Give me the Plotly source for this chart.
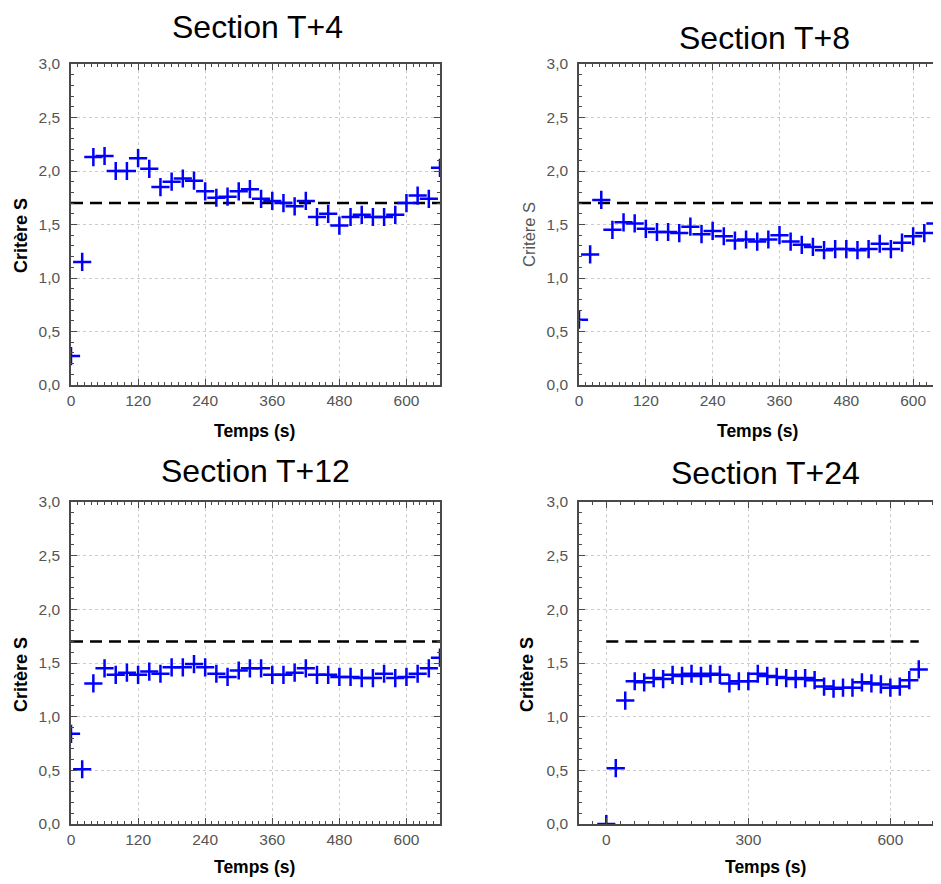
import plotly.graph_objects as go

W, H = 941, 884
OFF = 8  # page body margin of the browser

# ---------------- data ----------------
temps = [0, 20, 40, 60, 80, 100, 120, 140, 160, 180, 200, 220, 240, 260, 280, 300,
         320, 340, 360, 380, 400, 420, 440, 460, 480, 500, 520, 540, 560, 580, 600,
         620, 640, 660]

s_t4 = [0.27, 1.15, 2.13, 2.14, 2.00, 2.00, 2.12, 2.02, 1.85, 1.90, 1.93, 1.91, 1.81,
        1.75, 1.76, 1.81, 1.83, 1.74, 1.72, 1.70, 1.67, 1.72, 1.57, 1.60, 1.49, 1.57,
        1.59, 1.57, 1.57, 1.59, 1.70, 1.77, 1.74, 2.03]

s_t8 = [0.61, 1.22, 1.73, 1.45, 1.52, 1.51, 1.46, 1.43, 1.43, 1.42, 1.48, 1.41, 1.44,
        1.39, 1.35, 1.36, 1.34, 1.36, 1.40, 1.34, 1.31, 1.29, 1.26, 1.27, 1.27, 1.26,
        1.27, 1.32, 1.27, 1.33, 1.39, 1.42, 1.51]

s_t12 = [0.84, 0.51, 1.31, 1.45, 1.39, 1.41, 1.39, 1.42, 1.40, 1.46, 1.46, 1.49, 1.46,
         1.40, 1.37, 1.43, 1.45, 1.45, 1.39, 1.39, 1.41, 1.45, 1.39, 1.39, 1.37, 1.37,
         1.36, 1.36, 1.40, 1.36, 1.37, 1.40, 1.45, 1.55]

s_t24 = [0.00, 0.52, 1.15, 1.33, 1.32, 1.36, 1.35, 1.39, 1.38, 1.40, 1.38, 1.40, 1.39,
         1.31, 1.33, 1.33, 1.40, 1.38, 1.37, 1.36, 1.35, 1.36, 1.34, 1.28, 1.26, 1.27,
         1.27, 1.32, 1.31, 1.30, 1.27, 1.28, 1.34, 1.44]

seuil = 1.7

titres = ["Section T+4", "Section T+8", "Section T+12", "Section T+24"]
y_ticks = [0, 0.5, 1.0, 1.5, 2.0, 2.5, 3.0]
y_ticktext = ["0,0", "0,5", "1,0", "1,5", "2,0", "2,5", "3,0"]
x_ticks_a = [0, 120, 240, 360, 480, 600]
x_ticks_b = [0, 300, 600]
x_label = "Temps (s)"
y_label = "Critère S"

# ---------------- layout helpers (screen px -> paper) ----------------
def px_x(p):
    return min(1.0, (p - OFF) / W)

def px_y(p):
    return 1 - (p - OFF) / H

FONT = "Liberation Sans, Arial, sans-serif"
AXIS_COL = "#4a4a4a"
TICK_FONT = dict(family=FONT, size=15.5, color="#555555")

panels = [
    dict(y=s_t4, xt=x_ticks_a, mdt=12, xr=[0, 660], dx=(71, 440), dy=(64, 385), mirror=True,
         title_pos=(258, 27), ylab_x=21, ylab_y=236, ylab_bold=True, xlab_x=255, xlab_y=431),
    dict(y=s_t8, xt=x_ticks_a, mdt=12, xr=[0, 650], dx=(579, 941), dy=(64, 385), mirror=False,
         title_pos=(764, 38), ylab_x=529, ylab_y=235, ylab_bold=False, xlab_x=757, xlab_y=431),
    dict(y=s_t12, xt=x_ticks_a, mdt=12, xr=[0, 660], dx=(71, 440), dy=(502, 824), mirror=True,
         title_pos=(256, 471), ylab_x=21, ylab_y=675, ylab_bold=True, xlab_x=255, xlab_y=867),
    dict(y=s_t24, xt=x_ticks_b, mdt=30, xr=[-57.7, 707], dx=(579, 941), dy=(502, 824), mirror=False,
         title_pos=(765, 473), ylab_x=527, ylab_y=675, ylab_bold=True, xlab_x=765, xlab_y=867),
]

fig = go.Figure()
annotations = []

for i, p in enumerate(panels):
    n = "" if i == 0 else str(i + 1)
    xa, ya = "x" + n, "y" + n
    ys = p["y"]
    xs = temps[:len(ys)]
    # threshold dashed line
    fig.add_trace(go.Scatter(
        x=[temps[0], temps[-1]], y=[seuil, seuil], mode="lines",
        line=dict(color="black", width=2.5, dash="12px,7px"),
        xaxis=xa, yaxis=ya, showlegend=False, hoverinfo="skip"))
    # data crosses
    fig.add_trace(go.Scatter(
        x=xs, y=ys, mode="markers",
        marker=dict(symbol="cross-thin", size=13, line=dict(color="#0000ff", width=2.5)),
        xaxis=xa, yaxis=ya, showlegend=False))

    common = dict(
        showline=True, linecolor=AXIS_COL, linewidth=1.6,
        ticks="inside", ticklen=6, tickwidth=1.2, tickcolor=AXIS_COL,
        showgrid=True, gridcolor="#cccccc", gridwidth=1, griddash="dot",
        zeroline=False, tickfont=TICK_FONT, automargin=False,
    )
    fig.layout["xaxis" + n] = dict(
        common, domain=[px_x(p["dx"][0]), px_x(p["dx"][1])], range=p["xr"],
        tickvals=p["xt"], ticktext=[str(v) for v in p["xt"]],
        mirror="ticks", anchor=ya,
        minor=dict(dtick=p["mdt"], tick0=0, ticks="inside", ticklen=3.5,
                   tickwidth=1, tickcolor=AXIS_COL, showgrid=False),
        ticklabelstandoff=1,
    )
    fig.layout["yaxis" + n] = dict(
        common, domain=[px_y(p["dy"][1]), px_y(p["dy"][0])], range=[0, 3],
        tickvals=y_ticks, ticktext=y_ticktext,
        mirror="ticks" if p["mirror"] else False, anchor=xa,
        minor=dict(dtick=0.1, tick0=0, ticks="inside", ticklen=3.5,
                   tickwidth=1, tickcolor=AXIS_COL, showgrid=False),
        ticklabelstandoff=6,
    )

    annotations.append(dict(
        text=titres[i], x=px_x(p["title_pos"][0]), y=px_y(p["title_pos"][1]),
        xref="paper", yref="paper", xanchor="center", yanchor="middle",
        showarrow=False, font=dict(family=FONT, size=32, color="black")))
    annotations.append(dict(
        text="<b>" + x_label + "</b>", x=px_x(p["xlab_x"]),
        y=px_y(p["xlab_y"]), xref="paper", yref="paper", xanchor="center", yanchor="middle",
        showarrow=False, font=dict(family=FONT, size=17.5, color="black")))
    annotations.append(dict(
        text=("<b>" + y_label + "</b>") if p["ylab_bold"] else y_label,
        x=px_x(p["ylab_x"]), y=px_y(p["ylab_y"]), xref="paper", yref="paper",
        xanchor="center", yanchor="middle", textangle=-90, showarrow=False,
        font=dict(family=FONT, size=18 if p["ylab_bold"] else 16.5,
                  color="black" if p["ylab_bold"] else "#555555")))

fig.update_layout(
    template="none",
    width=W, height=H, margin=dict(l=0, r=0, t=0, b=0, pad=0), autosize=False,
    paper_bgcolor="white", plot_bgcolor="white",
    annotations=annotations, showlegend=False,
)

fig.write_html("out.html")
